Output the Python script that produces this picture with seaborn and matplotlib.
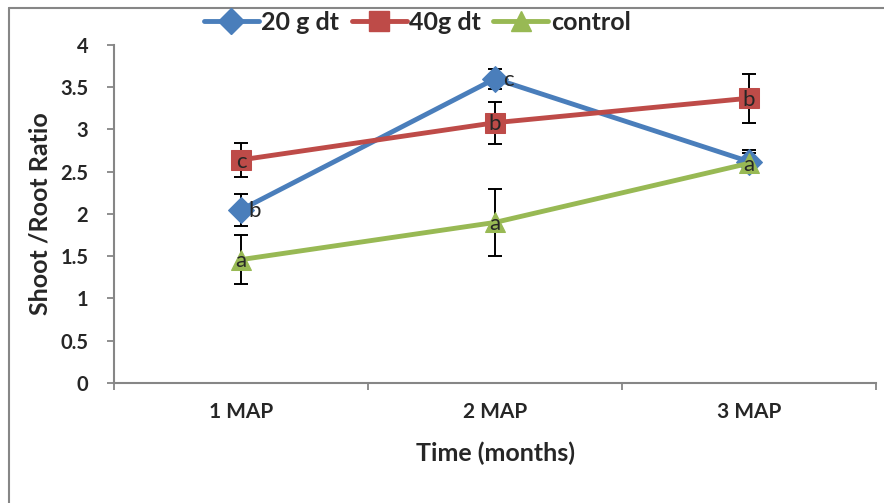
import matplotlib.pyplot as plt
import matplotlib.lines as mlines
import pandas as pd
import seaborn as sns

# data
months = ['1 MAP', '2 MAP', '3 MAP']
series_names = ['20 g dt', '40g dt', 'control']
dt20 = [2.05, 3.60, 2.62]
dt20_err = [0.19, 0.12, 0.14]
dt20_letters = ['b', 'c', '']
dt40 = [2.64, 3.08, 3.37]
dt40_err = [0.20, 0.25, 0.29]
dt40_letters = ['c', 'b', 'b']
control = [1.46, 1.90, 2.60]
control_err = [0.29, 0.40, 0.12]
control_letters = ['a', 'a', 'a']

COLORS = ['#4A7EBB', '#BE4B48', '#98B954']
MARKERS = ['D', 's', '^']
MSIZES = [13, 14.5, 15]
SPINE = '#868686'

sns.set_style('white')
plt.rcParams['font.family'] = ['Lato', 'DejaVu Sans']

fig = plt.figure(figsize=(8.84, 5.03), dpi=100)
ax = fig.add_axes([0.129, 0.2386, 0.862, 0.672])

pos = list(range(len(months)))
values = [dt20, dt40, control]
errors = [dt20_err, dt40_err, control_err]
letters = [dt20_letters, dt40_letters, control_letters]

handles = []
for name, y, err, lab, color, marker, ms in zip(series_names, values, errors, letters,
                                                 COLORS, MARKERS, MSIZES):
    df = pd.DataFrame({'x': pos, 'y': y})
    ax.errorbar(pos, y, yerr=err, fmt='none', ecolor='black', elinewidth=1.4,
                capsize=5, capthick=1.4, zorder=2)
    sns.lineplot(data=df, x='x', y='y', ax=ax, color=color, linewidth=3.5,
                 marker=marker, markersize=ms, markeredgecolor=color, zorder=3)
    for xi, yi, t in zip(pos, y, lab):
        if not t:
            continue
        if name == '20 g dt':
            ax.text(xi + 0.03, yi - 0.02, t, ha='left', va='center', fontsize=16, zorder=4)
        else:
            ax.text(xi, yi - 0.02, t, ha='center', va='center', fontsize=16, zorder=4)
    handles.append(mlines.Line2D([], [], color=color, linewidth=3.5, marker=marker,
                                 markersize=ms, label=name))

ax.set_xlim(-0.5, 2.5)
ax.set_ylim(0, 4)
ax.set_yticks([0, 0.5, 1, 1.5, 2, 2.5, 3, 3.5, 4])
ax.set_yticklabels(['0', '0.5', '1', '1.5', '2', '2.5', '3', '3.5', '4'],
                   fontsize=14.5, fontweight='bold')
ax.set_xticks([-0.5, 0.5, 1.5, 2.5])
ax.set_xticklabels([])
for xi, m in zip(pos, months):
    ax.text(xi, -0.086, m, transform=ax.get_xaxis_transform(), ha='center', va='center',
            fontsize=15, fontweight='bold')

ax.tick_params(axis='both', direction='out', length=5, width=1.3, color=SPINE,
               bottom=True, left=True, pad=13.5)
for side in ['top', 'right']:
    ax.spines[side].set_visible(False)
for side in ['left', 'bottom']:
    ax.spines[side].set_color(SPINE)
    ax.spines[side].set_linewidth(1.5)

ax.set_xlabel('Time (months)', fontsize=18, fontweight='bold', va='center')
ax.xaxis.set_label_coords(0.5, -0.207)
ax.set_ylabel('Shoot /Root Ratio', fontsize=18, fontweight='bold', va='center')
ax.yaxis.set_label_coords(-0.097, 0.5)
ax.grid(False)

fig.legend(handles=handles, loc='center', bbox_to_anchor=(0.472, 0.956), ncol=3,
           frameon=False, handlelength=2.2, handletextpad=0.1, columnspacing=0.5,
           prop={'weight': 'bold', 'size': 18})

# outer chart-area border (left and top only visible)
fig.add_artist(mlines.Line2D([0.0107, 0.0107], [0, 1 - 7.5 / 503], color=SPINE, linewidth=1.5))
fig.add_artist(mlines.Line2D([0.0107, 1.0], [1 - 7.5 / 503, 1 - 7.5 / 503], color=SPINE,
                             linewidth=1.5))

fig.savefig('out.png', dpi=100)
